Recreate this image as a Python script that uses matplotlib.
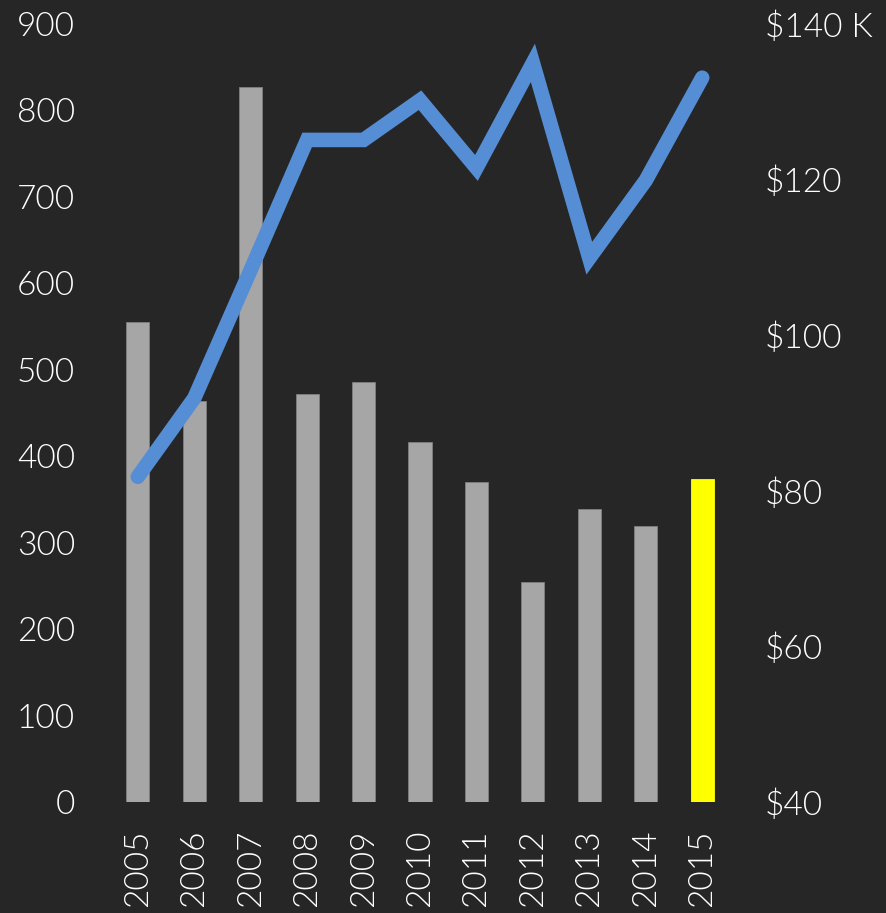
import numpy as np
import matplotlib
matplotlib.use("Agg")
import matplotlib.pyplot as plt

years = ["2005", "2006", "2007", "2008", "2009", "2010", "2011", "2012", "2013", "2014", "2015"]
counts = [555, 464, 827, 472, 486, 417, 370, 255, 339, 319, 374]
income = [81.8, 91.9, 108.4, 125.1, 125.1, 130.2, 121.5, 135.0, 109.9, 119.9, 133.1]  # $K

left_ticks = [0, 100, 200, 300, 400, 500, 600, 700, 800, 900]
right_ticks = [40, 60, 80, 100, 120, 140]
right_labels = ["$40", "$60", "$80", "$100", "$120", "$140 K"]

bg = "#262626"
plt.rcParams['font.family'] = ['Lato', 'DejaVu Sans']
plt.rcParams['font.weight'] = 300

fig = plt.figure(figsize=(8.87, 9.13), dpi=100, facecolor=bg)
ax = fig.add_axes([100 / 887, 111 / 913, 640 / 887, 778 / 913])
ax.set_facecolor(bg)

x = np.arange(len(years))
colors = ["#a6a6a6"] * (len(years) - 1) + ["#ffff00"]
ax.bar(x, counts, width=0.41, color=colors, edgecolor=["#808080"] * (len(years) - 1) + ["#ffff00"], linewidth=0.6, zorder=2)
ax.set_ylim(0, 900)
ax.set_xlim(-0.67, 10.67)
ax.set_yticks(left_ticks)
ax.set_xticks(x)
ax.set_xticklabels(years, rotation=90)

ax2 = ax.twinx()
ax2.plot(x, income, color="#558ed5", lw=10.5, solid_capstyle="round", solid_joinstyle="miter", zorder=3)
ax2.set_ylim(40, 140)
ax2.set_yticks(right_ticks)
ax2.set_yticklabels(right_labels)

for a in (ax, ax2):
    for s in a.spines.values():
        s.set_visible(False)
    a.tick_params(length=0, colors="white", labelsize=24)
ax.tick_params(axis="y", pad=18)
ax.tick_params(axis="x", pad=20)
ax2.tick_params(axis="y", pad=18)

fig.savefig("out.png", dpi=100, facecolor=bg)
